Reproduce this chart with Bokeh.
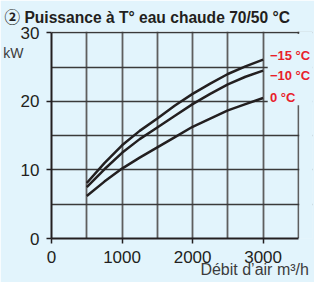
from bokeh.plotting import figure
from bokeh.models import Range1d, FixedTicker, Label, BoxAnnotation, LinearAxis
from bokeh.embed import file_html
from bokeh.resources import INLINE

# ---- data ----
airflow = [500, 750, 1000, 1250, 1500, 1750, 2000, 2250, 2500, 2750, 3000]
p_m15 = [8.1, 11.0, 13.6, 15.7, 17.5, 19.4, 21.1, 22.6, 24.0, 25.1, 26.1]
p_m10 = [7.5, 10.1, 12.5, 14.5, 16.2, 17.9, 19.6, 21.1, 22.5, 23.6, 24.5]
p_0 = [6.2, 8.3, 10.2, 11.8, 13.3, 14.8, 16.3, 17.5, 18.7, 19.6, 20.5]
series_labels = ["\u221215 \u00b0C", "\u221210 \u00b0C", "0 \u00b0C"]
x_ticks = [0, 1000, 2000, 3000]
y_ticks = [0, 10, 20, 30]
x_grid = [0, 500, 1000, 1500, 2000, 2500, 3000, 3500]
y_grid = [0, 5, 10, 15, 20, 25, 30]
title_text = "\u2461 Puissance \u00e0 T\u00b0 eau chaude 70/50 \u00b0C"
y_unit = "kW"
x_unit = "D\u00e9bit d\u2019air m\u00b3/h"

BG = "#e2f4fc"
DARK = "#231f20"
RED = "#e8202a"
FONT = "Liberation Sans"

p = figure(width=314, height=282, output_backend="svg", toolbar_location=None,
           x_range=Range1d(0, 3700), y_range=Range1d(0, 30.2),
           min_border_left=50, min_border_right=2, min_border_top=31, min_border_bottom=44)
p.background_fill_color = BG
p.border_fill_color = BG
p.outline_line_color = None

p.title.text = title_text
p.title.align = "left"
p.title.offset = -47
p.title.standoff = 12
p.title.text_font = "'Liberation Sans', 'Noto Sans CJK JP'"
p.title.text_font_style = "bold"
p.title.text_font_size = "15.6px"
p.title.text_color = DARK

for ax in (p.xaxis[0], p.yaxis[0]):
    ax.axis_line_color = DARK
    ax.axis_line_width = 2
    ax.major_tick_line_color = DARK
    ax.major_tick_line_width = 1.5
    ax.major_tick_out = 5
    ax.major_tick_in = 0
    ax.minor_tick_line_color = None
    ax.major_label_text_font = FONT
    ax.major_label_text_font_size = "17px"
    ax.major_label_text_color = DARK

p.xaxis.ticker = FixedTicker(ticks=x_ticks)
p.yaxis.ticker = FixedTicker(ticks=y_ticks)
p.xaxis.bounds = (0, 3500)
p.yaxis.bounds = (0, 30)
p.xaxis.major_label_standoff = 7
p.yaxis.major_label_standoff = 7

# unit "kW" as a label of an extra, line-less left axis
unit_axis = LinearAxis(ticker=FixedTicker(ticks=[27]), major_label_overrides={27: y_unit},
                       axis_line_color=None, major_tick_line_color=None,
                       minor_tick_line_color=None, major_tick_out=0, major_tick_in=0,
                       major_label_standoff=-6, major_label_text_font=FONT,
                       major_label_text_font_size="14px", major_label_text_color="#3c3c3c")
p.add_layout(unit_axis, "left")

# x unit as a label of an extra, line-less bottom axis
xunit_axis = LinearAxis(ticker=FixedTicker(ticks=[2880]), major_label_overrides={2880: x_unit},
                        axis_line_color=None, major_tick_line_color=None,
                        minor_tick_line_color=None, major_tick_out=0, major_tick_in=0,
                        major_label_standoff=-5, major_label_text_font=FONT,
                        major_label_text_font_size="16px", major_label_text_color="#3c3c3c")
p.add_layout(xunit_axis, "below")

p.xgrid.ticker = FixedTicker(ticks=x_grid)
p.ygrid.ticker = FixedTicker(ticks=y_grid)
p.xgrid.grid_line_color = "#5e5e5e"
p.xgrid.grid_line_width = 1.8
p.ygrid.grid_line_color = "#3a3a3a"
p.ygrid.grid_line_width = 1.5

# hide grid beyond 3500 and behind the series labels
p.add_layout(BoxAnnotation(left=3513, right=3800, top=40, bottom=-5,
                           fill_color=BG, fill_alpha=1, line_alpha=0))
p.add_layout(BoxAnnotation(left=3065, right=3800, top=29.85, bottom=19.45,
                           fill_color=BG, fill_alpha=1, line_alpha=0))

for ys in (p_m15, p_m10, p_0):
    p.line(airflow, ys, line_color=DARK, line_width=2.5)

label_y = [26.69, 23.73, 20.61]
for t, yy in zip(series_labels, label_y):
    p.add_layout(Label(x=3096, y=yy, text=t, text_font=FONT, text_font_style="bold",
                       text_font_size="13px", text_color=RED, text_baseline="alphabetic",
                       text_align="left"))

open("out.html", "w").write(file_html(p, INLINE))
